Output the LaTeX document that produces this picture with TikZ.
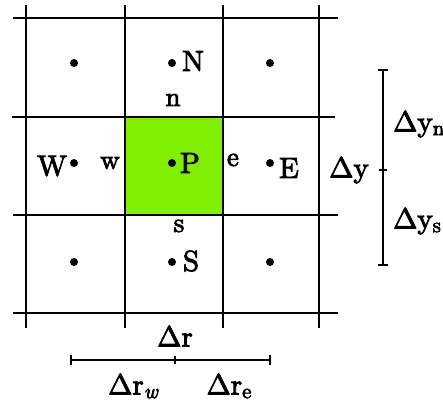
\documentclass[tikz,border=0pt]{standalone}
\usepackage{fontspec}
\newfontfamily\labfont{lmroman10-regular.otf}[RawFeature={embolden=3},ItalicFont=lmroman10-italic.otf,ItalicFeatures={RawFeature={embolden=3}}]
\begin{document}
\begin{tikzpicture}[x=1pt,y=-1pt,
  grid/.style={line width=2pt,black},
  cdot/.style={circle,fill=black,inner sep=0pt,minimum size=8pt},
  big/.style={inner sep=0pt,font=\labfont\fontsize{29}{32}\selectfont},
  small/.style={inner sep=0pt,font=\labfont\fontsize{27}{30}\selectfont},
  bar/.style={line width=2pt,black}]
\useasboundingbox (0,0) rectangle (443,401);
\fill[fill={rgb,255:red,128;green,240;blue,0}] (125,117) rectangle (223,215);
% grid lines
\foreach \x in {26,125,223,319} \draw[grid] (\x,5) -- (\x,328);
\draw[grid] (13,18) -- (338,18);
\draw[grid] (12,117) -- (335,117);
\draw[grid] (13,215) -- (338,215);
\draw[grid] (13,313) -- (338,313);
% dots
\node[cdot] (nw) at (74,63) {};
\node[cdot] (nn) at (172,63) {};
\node[cdot] (ne) at (270,63) {};
\node[cdot] (ww) at (74,163) {};
\node[cdot] (pp) at (172,163) {};
\node[cdot] (ee) at (270,163) {};
\node[cdot] (sw) at (74,262) {};
\node[cdot] (ss) at (172,262) {};
\node[cdot] (se) at (270,262) {};
% labels
\node[big] (lN) at (193,61) {N};
\node[big] (lW) at (52,166) {W};
\node[big] (lP) at (190,163) {P};
\node[big] (lE) at (289,168) {E};
\node[big] (lS) at (191,261) {S};
\node[small] (ln) at (173,100) {n};
\node[small] (lw) at (110,163) {w};
\node[small] (le) at (233,160) {e};
\node[small] (ls) at (179,226) {s};
% vertical bar
\coordinate (yt) at (383,70);
\coordinate (ym) at (383,170);
\coordinate (yb) at (383,265);
\draw[bar] (yt) -- (yb);
\draw[bar] ([xshift=-5pt]yt) -- ([xshift=5pt]yt);
\draw[bar] ([xshift=-5pt]yb) -- ([xshift=5pt]yb);
\draw[bar] ([xshift=-4pt]ym) -- ([xshift=4pt]ym);
\node[big] (dy) at (349,170) {Δy};
\node[big,anchor=west] (dyn) at (393,124) {Δy\raisebox{-0.3ex}{\fontsize{21}{22}\selectfont n}};
\node[big,anchor=west] (dys) at (393,221) {Δy\raisebox{-0.3ex}{\fontsize{21}{22}\selectfont s}};
% horizontal bar
\coordinate (rl) at (71,360);
\coordinate (rm) at (175,360);
\coordinate (rr) at (270,360);
\draw[bar] (rl) -- (rr);
\draw[bar] ([yshift=-5pt]rl) -- ([yshift=5pt]rl);
\draw[bar] ([yshift=-5pt]rr) -- ([yshift=5pt]rr);
\draw[bar] ([yshift=-4pt]rm) -- ([yshift=4pt]rm);
\node[big] (dr) at (175,336) {Δr};
\node[big] (drw) at (133,386) {Δr\raisebox{-0.3ex}{\fontsize{21}{22}\selectfont\itshape w}};
\node[big] (dre) at (229,386) {Δr\raisebox{-0.3ex}{\fontsize{21}{22}\selectfont e}};
\end{tikzpicture}
\end{document}
